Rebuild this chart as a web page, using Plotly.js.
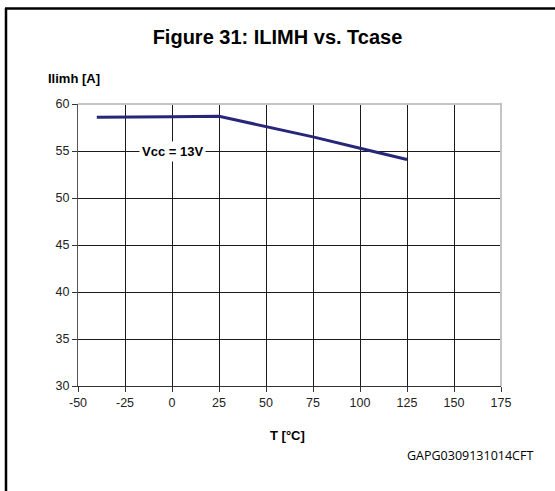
<!DOCTYPE html>
<html>
<head>
<meta charset="utf-8">
<script src="https://cdn.plot.ly/plotly-3.0.1.min.js"></script>
<style>html,body{margin:0;padding:0;background:#fff}#chart{width:555px;height:491px}</style>
</head>
<body>
<div id="chart"></div>
<script>
const temperature = [-40, -25, 0, 25, 50, 75, 100, 125];
const ilimh = [58.6, 58.6, 58.65, 58.7, 57.6, 56.5, 55.3, 54.1];
const xTicks = [-50, -25, 0, 25, 50, 75, 100, 125, 150, 175];
const yTicks = [30, 35, 40, 45, 50, 55, 60];
const seriesLabel = "Vcc = 13V";

const W = 555, H = 491, L = 78, R = 501, T = 104, B = 386;
const px = v => (v - L) / (R - L);
const py = v => (B - v) / (B - T);

const trace = {
  x: temperature, y: ilimh, type: 'scatter', mode: 'lines',
  line: {color: '#27267a', width: 3}, hoverinfo: 'none'
};

const layout = {
  width: W, height: H,
  margin: {l: L, r: W - R, t: T, b: H - B, pad: 0},
  paper_bgcolor: '#fff', plot_bgcolor: '#fff',
  showlegend: false,
  font: {family: 'Liberation Sans, Arial, sans-serif', size: 12, color: '#000'},
  title: {text: 'Figure 31: ILIMH vs. Tcase', font: {size: 20, color: '#000', family: 'Liberation Sans, Arial, sans-serif', weight: 'bold'},
          x: 0.5, xanchor: 'center', y: 1 - 37 / H, yanchor: 'middle'},
  xaxis: {range: [-50, 175], tickvals: xTicks, ticktext: xTicks.map(String),
          showgrid: true, gridcolor: '#1a1a1a', gridwidth: 1, zeroline: false,
          showline: true, linecolor: '#333', linewidth: 1,
          ticks: 'outside', ticklen: 5, tickcolor: '#333',
          tickfont: {size: 12.5, color: '#222'}},
  yaxis: {range: [30, 60], tickvals: yTicks, ticktext: yTicks.map(String),
          showgrid: true, gridcolor: '#1a1a1a', gridwidth: 1, zeroline: false,
          showline: true, linecolor: '#555', linewidth: 1,
          ticks: 'outside', ticklen: 5, tickcolor: '#333',
          tickfont: {size: 12.5, color: '#222'}},
  shapes: [
    {type: 'line', xref: 'paper', yref: 'paper', x0: px(L), x1: px(R), y0: 1, y1: 1, line: {color: '#c4c4c4', width: 2}},
    {type: 'line', xref: 'paper', yref: 'paper', x0: px(R), x1: px(R), y0: 0, y1: 1.004, line: {color: '#c4c4c4', width: 2}},
    {type: 'line', xref: 'paper', yref: 'paper', x0: px(6), x1: px(6), y0: py(8), y1: py(495), line: {color: '#000', width: 2.5}},
    {type: 'line', xref: 'paper', yref: 'paper', x0: px(5), x1: px(560), y0: py(8.5), y1: py(8.5), line: {color: '#000', width: 2.5}}
  ],
  annotations: [
    {text: '<b>' + seriesLabel + '</b>', x: 0, y: 55, xref: 'x', yref: 'y', showarrow: false,
     bgcolor: '#fff', font: {size: 13, color: '#000'}, borderpad: 2},
    {text: '<b>Ilimh [A]</b>', xref: 'paper', yref: 'paper', x: px(46), y: py(78), xanchor: 'left', yanchor: 'middle',
     showarrow: false, font: {size: 13, color: '#000'}},
    {text: '<b>T [°C]</b>', xref: 'paper', yref: 'paper', x: px(287), y: py(435), xanchor: 'center', yanchor: 'middle',
     showarrow: false, font: {size: 13, color: '#000'}},
    {text: 'GAPG0309131014CFT', xref: 'paper', yref: 'paper', x: px(535), y: py(455), xanchor: 'right', yanchor: 'middle',
     showarrow: false, font: {size: 12.5, color: '#000', family: 'Open Sans, sans-serif'}}
  ]
};

Plotly.newPlot('chart', [trace], layout, {displayModeBar: false, staticPlot: true});
</script>
</body>
</html>
